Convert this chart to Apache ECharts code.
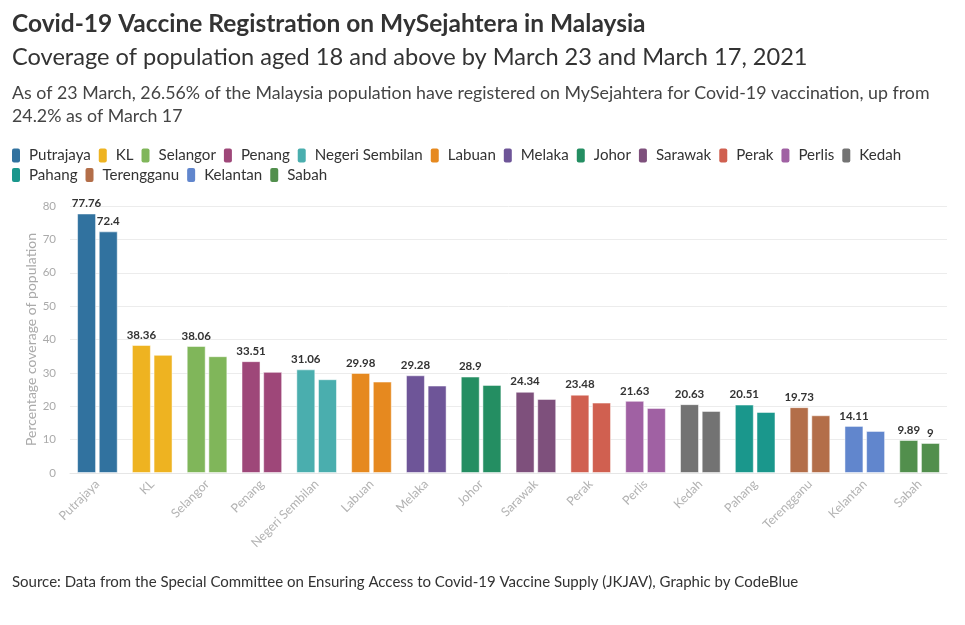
<!DOCTYPE html>
<html><head><meta charset="utf-8">
<script src="https://cdn.jsdelivr.net/npm/echarts@6/dist/echarts.min.js"></script>
<style>html,body{margin:0;padding:0;background:#fff}#c{width:965px;height:625px}</style>
</head><body><div id="c"></div>
<script>
const categories = ["Putrajaya","KL","Selangor","Penang","Negeri Sembilan","Labuan","Melaka","Johor","Sarawak","Perak","Perlis","Kedah","Pahang","Terengganu","Kelantan","Sabah"];
const march23 = [77.76,38.36,38.06,33.51,31.06,29.98,29.28,28.9,24.34,23.48,21.63,20.63,20.51,19.73,14.11,9.89];
const march17 = [72.4,35.4,35.0,30.3,28.1,27.4,26.2,26.4,22.2,21.1,19.5,18.6,18.3,17.3,12.6,9];
const march17Labelled = ["Putrajaya","Sabah"];
const colors = ["#31729f","#eeb321","#80b65a","#9e4779","#4aaeae","#e6891f","#6e5598","#248e62","#7e507c","#d06050","#a061a3","#737373","#1a978c","#b36e49","#6186cd","#528f4d"];
const legendRow1 = categories.slice(0,12);
const legendRow2 = categories.slice(12);

const FONT = "Lato";
const chart = echarts.init(document.getElementById('c'));

const legendSeries = categories.map((c,i)=>({
  name:c, type:'line', data:[], itemStyle:{color:colors[i]}, lineStyle:{color:colors[i]}
}));

const barStyle = {
  color: p => colors[p.dataIndex],
  borderColor: 'rgba(255,255,255,0.5)', borderWidth: 1
};
const legendCommon = {
  icon:'roundRect', itemWidth:8, itemHeight:14, itemGap:8, padding:0,
  textStyle:{fontFamily:FONT, fontSize:15.1, color:'#333', padding:[0,0,0,4]}
};

chart.setOption({
  animation:false,
  textStyle:{fontFamily:FONT},
  title:[
    {text:"Covid-19 Vaccine Registration on MySejahtera in Malaysia", left:12, top:12, padding:0,
     textStyle:{fontFamily:FONT, fontSize:24.5, fontWeight:'bold', color:'#333'}},
    {text:"Coverage of population aged 18 and above by March 23 and March 17, 2021", left:12, top:45, padding:0,
     textStyle:{fontFamily:FONT, fontSize:23.6, fontWeight:'normal', color:'#333'}},
    {text:"As of 23 March, 26.56% of the Malaysia population have registered on MySejahtera for Covid-19 vaccination, up from\n24.2% as of March 17", left:12, top:82, padding:0,
     textStyle:{fontFamily:FONT, fontSize:17.8, fontWeight:'normal', color:'#444', lineHeight:23}},
    {text:"Source: Data from the Special Committee on Ensuring Access to Covid-19 Vaccine Supply (JKJAV), Graphic by CodeBlue", left:12, top:575, padding:0,
     textStyle:{fontFamily:FONT, fontSize:15, fontWeight:'normal', color:'#333'}}
  ],
  legend:[
    Object.assign({data:legendRow1, left:12, top:148}, legendCommon),
    Object.assign({data:legendRow2, left:12, top:167.5}, legendCommon)
  ],
  grid:{left:70, right:18, top:206, bottom:152, containLabel:false},
  xAxis:{
    type:'category', data:categories,
    axisLine:{lineStyle:{color:'#e6e6e6'}},
    axisTick:{alignWithLabel:true, length:5, lineStyle:{color:'#ddd'}},
    axisLabel:{rotate:45, color:'#b3b3b3', fontSize:12.5, fontFamily:FONT, margin:9}
  },
  yAxis:{
    type:'value', min:0, max:80, interval:10,
    name:"Percentage coverage of population", nameLocation:'middle', nameGap:32,
    nameMoveOverlap:false,
    nameTextStyle:{color:'#aaa', fontSize:14, fontFamily:FONT},
    axisLine:{show:false}, axisTick:{show:false},
    axisLabel:{color:'#aaa', fontSize:11.5, fontFamily:FONT, margin:14},
    splitLine:{lineStyle:{color:'#ececec'}}
  },
  series:[
    {name:'March 23', type:'bar', data:march23, barWidth:19, barGap:'14%',
     itemStyle:barStyle,
     label:{show:true, position:'top', distance:4, color:'#333', fontWeight:'bold', fontSize:11.5, fontFamily:FONT}},
    {name:'March 17', type:'bar', data:march17.map((v,i)=>({value:v,
       label:{show: march17Labelled.includes(categories[i])}})), barWidth:19,
     itemStyle:barStyle,
     label:{show:false, position:'top', distance:4, color:'#333', fontWeight:'bold', fontSize:11.5, fontFamily:FONT}},
    ...legendSeries
  ]
});
</script></body></html>
